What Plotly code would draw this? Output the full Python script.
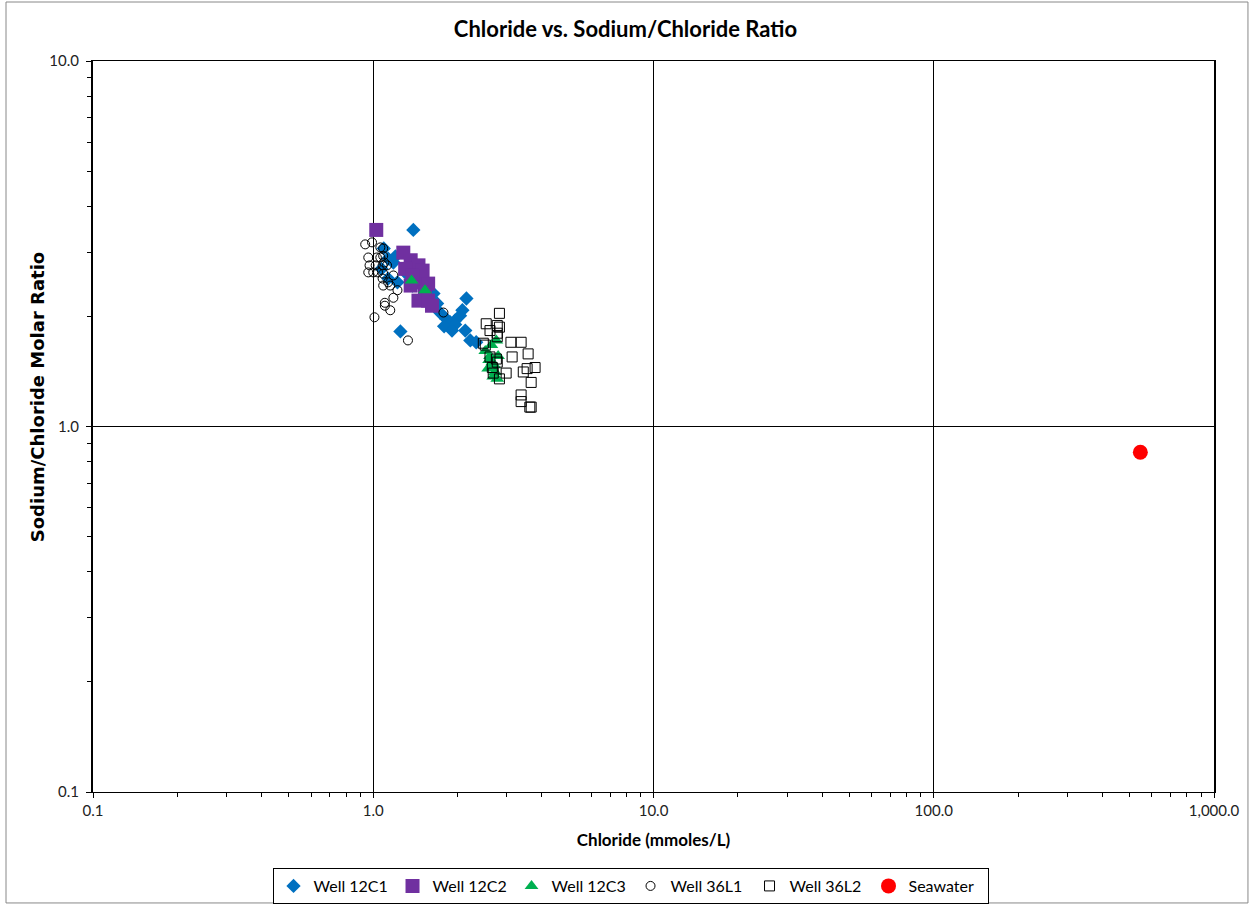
import plotly.graph_objects as go

# Chloride (mmoles/L) and Sodium/Chloride molar ratio

c1_cl = [1.39, 1.25, 1.09, 1.13, 1.18, 1.07, 1.20, 1.13, 1.22, 1.30, 1.38, 1.50, 1.64, 1.69,
         1.73, 1.82, 1.88, 1.96, 2.04, 2.08, 2.15, 1.96, 1.79, 2.13, 2.22, 2.33, 1.91, 1.57]
c1_ratio = [3.45, 1.82, 3.07, 2.88, 2.81, 2.70, 2.92, 2.54, 2.48, 2.64, 2.43, 2.46, 2.31, 2.17,
            2.05, 1.97, 1.93, 1.95, 2.01, 2.08, 2.24, 1.90, 1.88, 1.83, 1.72, 1.70, 1.83, 2.21]

c2_cl = [1.025, 1.28, 1.36, 1.45, 1.30, 1.41, 1.47, 1.36, 1.57, 1.53, 1.45, 1.57, 1.62, 1.50, 1.38]
c2_ratio = [3.45, 2.99, 2.85, 2.76, 2.70, 2.59, 2.48, 2.43, 2.46, 2.33, 2.21, 2.21, 2.14, 2.67, 2.59]

c3_cl = [1.37, 1.53, 2.51, 2.61, 2.66, 2.57, 2.72, 2.77, 2.70, 2.64, 2.75, 2.59, 2.79, 2.68]
c3_ratio = [2.51, 2.36, 1.61, 1.56, 1.50, 1.44, 1.41, 1.35, 1.47, 1.67, 1.72, 1.52, 1.56, 1.37]

l1_cl = [0.936, 0.99, 1.06, 1.085, 0.96, 1.03, 1.085, 0.97, 1.02, 1.08, 1.12, 0.96, 1.00, 1.04,
         1.085, 1.18, 1.08, 1.13, 1.085, 1.15, 1.22, 1.18, 1.10, 1.10, 1.15, 1.01, 1.33, 1.78,
         1.06, 1.095]
l1_ratio = [3.15, 3.19, 3.09, 3.07, 2.90, 2.90, 2.93, 2.76, 2.76, 2.76, 2.76, 2.64, 2.64, 2.64,
            2.62, 2.59, 2.54, 2.48, 2.43, 2.43, 2.36, 2.25, 2.18, 2.14, 2.08, 1.99, 1.72, 2.05,
            2.90, 2.81]

l2_cl = [2.82, 2.53, 2.77, 2.82, 2.61, 2.77, 2.77, 2.47, 2.51, 3.10, 3.37, 3.57, 3.13, 2.61,
         2.75, 2.77, 2.66, 2.68, 2.82, 2.98, 3.54, 3.78, 3.43, 3.66, 3.37, 3.37, 3.66, 3.62]
l2_ratio = [2.04, 1.91, 1.89, 1.87, 1.83, 1.80, 1.76, 1.69, 1.67, 1.70, 1.70, 1.58, 1.55, 1.55,
            1.53, 1.50, 1.45, 1.40, 1.35, 1.40, 1.44, 1.45, 1.41, 1.32, 1.22, 1.17, 1.13, 1.13]

sea_cl = [546]
sea_ratio = [0.85]

fig = go.Figure()

fig.add_trace(go.Scatter(x=c1_cl, y=c1_ratio, mode="markers", name="Well 12C1",
                         marker=dict(symbol="diamond", size=11, color="#0070C0")))
fig.add_trace(go.Scatter(x=c2_cl, y=c2_ratio, mode="markers", name="Well 12C2",
                         marker=dict(symbol="square", size=14, color="#7030A0")))
fig.add_trace(go.Scatter(x=c3_cl, y=c3_ratio, mode="markers", name="Well 12C3",
                         marker=dict(symbol="triangle-up", size=12, color="#00B050")))
fig.add_trace(go.Scatter(x=l1_cl, y=l1_ratio, mode="markers", name="Well 36L1",
                         marker=dict(symbol="circle-open", size=9, color="black",
                                     line=dict(width=1))))
fig.add_trace(go.Scatter(x=l2_cl, y=l2_ratio, mode="markers", name="Well 36L2",
                         marker=dict(symbol="square-open", size=10, color="black",
                                     line=dict(width=1))))
fig.add_trace(go.Scatter(x=sea_cl, y=sea_ratio, mode="markers", name="Seawater",
                         marker=dict(symbol="circle", size=15, color="#FF0000")))

axis_common = dict(
    type="log", dtick=1, tickformat=",.1f", automargin=False,
    showgrid=True, gridcolor="black", gridwidth=1,
    showline=True, linecolor="black", linewidth=1, mirror=True,
    ticks="outside", ticklen=5, tickcolor="black",
    minor=dict(ticks="outside", ticklen=4, tickcolor="black", showgrid=False),
    tickfont=dict(family="Lato, sans-serif", size=15, color="#222"),
    zeroline=False,
)

fig.update_xaxes(axis_common, range=[-1, 3],
                 title=dict(text="<b>Chloride (mmoles/L)</b>",
                            font=dict(family="Lato, sans-serif", size=17, color="black"),
                            standoff=16))
fig.update_yaxes(axis_common, range=[-1, 1], linewidth=2, ticklabelstandoff=4)

fig.update_layout(
    width=1251, height=904,
    margin=dict(l=93, r=37, t=61, b=112),
    paper_bgcolor="white", plot_bgcolor="white",
    title=dict(text="<b>Chloride vs. Sodium/Chloride Ratio</b>", x=0.5, xanchor="center",
               y=0.976, yanchor="top",
               font=dict(family="Lato, sans-serif", size=22, color="black")),
    legend=dict(orientation="h", xref="paper", yref="container",
                x=0.4795, xanchor="center", y=0.0398, yanchor="top",
                entrywidth=74, bordercolor="black", borderwidth=1,
                font=dict(family="Lato, sans-serif", size=16, color="black")),
    annotations=[dict(text="<b>Sodium/Chloride Molar Ratio</b>", textangle=-90,
                      xref="paper", yref="paper", x=-0.05, y=0.54,
                      xanchor="center", yanchor="middle", showarrow=False,
                      font=dict(family="DejaVu Sans, sans-serif", size=18, color="black"))],
    shapes=[dict(type="rect", xref="paper", yref="paper",
                 x0=-0.0776, x1=1.0303, y0=-0.1518, y1=1.0807,
                 line=dict(color="#888", width=1))],
)

# drop the default 8px page margin so the figure sits at the window corner
fig.write_html("out.html", config={"displayModeBar": False},
               post_script="document.body.style.margin = '0';")
